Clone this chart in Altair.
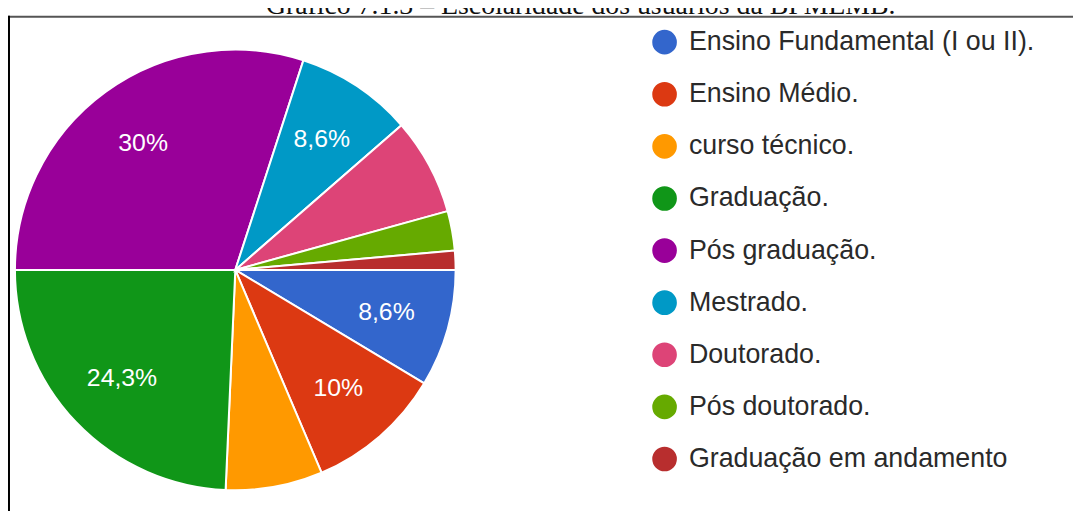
import math
import altair as alt
import pandas as pd

# ---- data ----
categories = [
    "Ensino Fundamental (I ou II).",
    "Ensino Médio.",
    "curso técnico.",
    "Graduação.",
    "Pós graduação.",
    "Mestrado.",
    "Doutorado.",
    "Pós doutorado.",
    "Graduação em andamento",
]
percent = [8.6, 10.0, 7.1, 24.3, 30.0, 8.6, 7.1, 2.9, 1.4]
slice_labels = ["8,6%", "10%", "", "24,3%", "30%", "8,6%", "", "", ""]
colors = ["#3366cc", "#dc3912", "#ff9900", "#109618", "#990099",
          "#0099c6", "#dd4477", "#66aa00", "#b82e2e"]
title_text = "Gráfico 7.1.3 – Escolaridade dos usuários da BPMEMB."

df = pd.DataFrame({
    "categoria": categories,
    "pct": percent,
    "rotulo": slice_labels,
    "ordem": list(range(len(categories))),
})

W, H = 1073, 505
CX, CY = 229, 262       # pie centre inside the view
R = 222                 # pie radius
R_LABEL = 158           # radius of the percentage labels

theta_scale = alt.Scale(range=[math.pi / 2, math.pi / 2 + 2 * math.pi])

base = alt.Chart(df)

pie = base.mark_arc(outerRadius=R, stroke="white", strokeWidth=2).encode(
    theta=alt.Theta("pct:Q", stack=True, scale=theta_scale),
    color=alt.Color(
        "categoria:N",
        scale=alt.Scale(domain=categories, range=colors),
        legend=alt.Legend(
            title=None,
            orient="none",
            legendX=648,
            legendY=19,
            symbolType="circle",
            symbolSize=616,
            symbolStrokeWidth=0,
            symbolOpacity=1,
            labelFont="Liberation Sans",
            labelFontSize=27,
            labelColor="#2a2a2a",
            labelOffset=11,
            labelLimit=600,
            rowPadding=24.5,
            padding=0,
        ),
    ),
    order=alt.Order("ordem:Q", sort="ascending"),
    x=alt.value(CX),
    y=alt.value(CY),
)

labels = base.mark_text(
    radius=R_LABEL, font="Liberation Sans", fontSize=25, color="#ffffff",
    align="center", baseline="middle",
).encode(
    theta=alt.Theta("pct:Q", stack=True, scale=theta_scale),
    detail="categoria:N",
    order=alt.Order("ordem:Q", sort="ascending"),
    text="rotulo:N",
    x=alt.value(CX),
    y=alt.value(CY),
)

title = alt.Chart(pd.DataFrame({"t": [title_text]})).mark_text(
    font="Liberation Serif", fontSize=28, color="#111111",
    align="center", baseline="alphabetic",
).encode(text="t:N", x=alt.value(577), y=alt.value(4))

frame_top = alt.Chart(pd.DataFrame({"t": [0]})).mark_rule(
    color="#555555", strokeWidth=2
).encode(x=alt.value(0), x2=alt.value(W), y=alt.value(7))

frame_left = alt.Chart(pd.DataFrame({"t": [0]})).mark_rule(
    color="#000000", strokeWidth=2
).encode(x=alt.value(1), y=alt.value(6), y2=alt.value(H))

chart = alt.layer(pie, labels, title, frame_top, frame_left).properties(
    width=W,
    height=H,
    padding=0,
    autosize=alt.AutoSizeParams(type="none"),
).configure_view(stroke=None)

chart.save("out.html", embed_options={"renderer": "svg", "actions": False})
